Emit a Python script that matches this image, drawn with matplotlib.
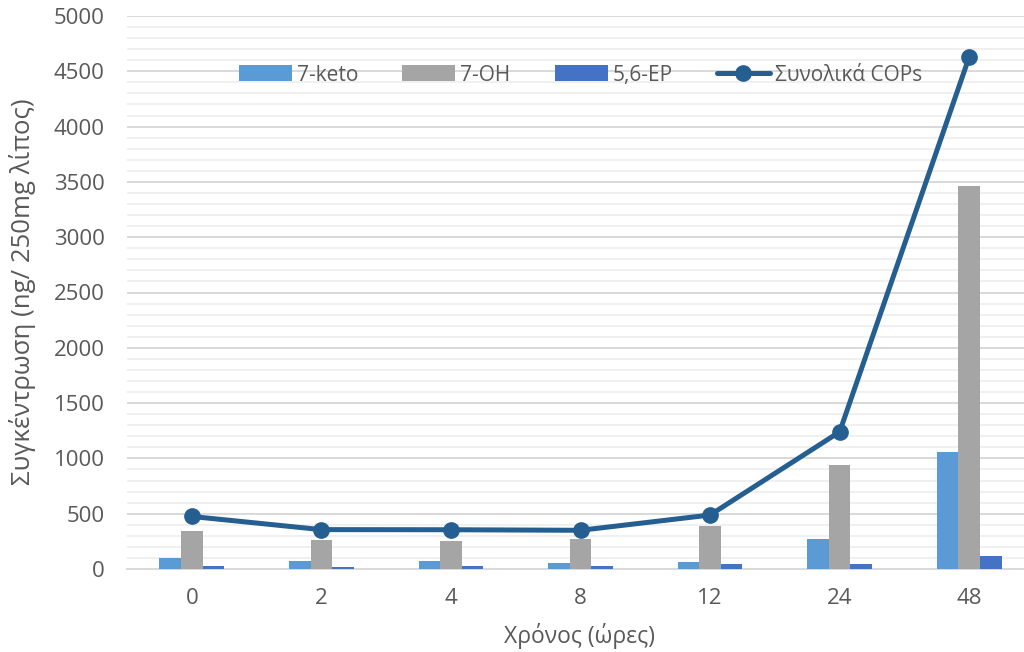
import matplotlib
matplotlib.use("Agg")
import matplotlib.pyplot as plt
from matplotlib.ticker import MultipleLocator
import numpy as np

plt.rcParams['font.family'] = ['Open Sans', 'DejaVu Sans']

hours = ["0", "2", "4", "8", "12", "24", "48"]
keto7 = [100, 75, 70, 57, 63, 268, 1055]
oh7 = [345, 265, 253, 270, 390, 938, 3460]
ep56 = [25, 20, 30, 28, 42, 45, 120]
total_cops = [475, 356, 355, 350, 488, 1240, 4630]

c_keto = "#5B9BD5"
c_oh = "#A5A5A5"
c_ep = "#4472C4"
c_line = "#255E91"
txt = "#595959"

W, H = 1024, 652
fig = plt.figure(figsize=(W / 100, H / 100), dpi=100)
left, right, bottom, top = 127, 1034, 569, 16
ax = fig.add_axes([left / W, 1 - bottom / H, (right - left) / W, (bottom - top) / H])

x = np.arange(len(hours))
bw = 1 / 6
b1 = ax.bar(x - bw, keto7, bw, color=c_keto, label="7-keto", zorder=3)
b2 = ax.bar(x, oh7, bw, color=c_oh, label="7-OH", zorder=3)
b3 = ax.bar(x + bw, ep56, bw, color=c_ep, label="5,6-EP", zorder=3)
ln, = ax.plot(x, total_cops, color=c_line, lw=3.6, marker="o", ms=11,
              label="Συνολικά COPs", zorder=4, solid_capstyle="round")

ax.set_xlim(-0.5, len(hours) - 0.5)
ax.set_ylim(0, 5000)
ax.yaxis.set_major_locator(MultipleLocator(500))
ax.yaxis.set_minor_locator(MultipleLocator(100))
ax.grid(axis="y", which="major", color="#D9D9D9", lw=1.4, zorder=0)
ax.grid(axis="y", which="minor", color="#F0F0F0", lw=1.4, zorder=0)
ax.set_axisbelow(True)

for s in ("top", "right", "left"):
    ax.spines[s].set_visible(False)
ax.spines["bottom"].set_color("#D9D9D9")
ax.spines["bottom"].set_linewidth(1.4)

ax.set_xticks(x)
ax.set_xticklabels(hours)
ax.tick_params(axis="both", which="both", length=0, labelsize=16, labelcolor=txt)
ax.tick_params(axis="y", pad=16)
ax.tick_params(axis="x", pad=14)

fig.text(23 / W, 1 - 292 / H, "Συγκέντρωση (ng/ 250mg λίπος)", rotation=90,
         ha="center", va="center", fontsize=18.5, color=txt)
fig.text(580 / W, 1 - 636 / H, "Χρόνος (ώρες)", ha="center", va="center",
         fontsize=16.5, color=txt)

leg = ax.legend([b1, b2, b3, ln], ["7-keto", "7-OH", "5,6-EP", "Συνολικά COPs"],
                loc="center", bbox_to_anchor=(0.5, 0.893), ncol=4, frameon=False,
                fontsize=15, labelcolor=txt, handlelength=2.55, handleheight=0.8,
                handletextpad=0.25, columnspacing=2.1)

fig.savefig("out.png", dpi=100)
